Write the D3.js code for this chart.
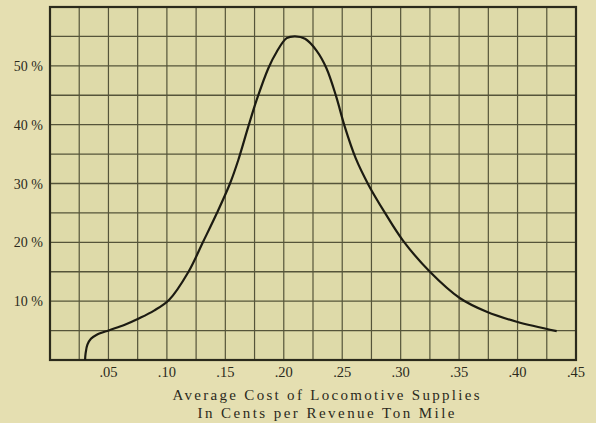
<!doctype html>
<html>
<head>
<style>
  body { margin: 0; background: #e5dfb1; }
  svg { display: block; }
</style>
</head>
<body>
    <div class="container"></div>

    <script src="https://d3js.org/d3.v7.min.js"></script>

    <script>
        // cost per revenue ton mile (cents) vs percentage
        const costs = [0.030, 0.0305, 0.032, 0.035, 0.040, 0.0513, 0.064, 0.0764, 0.089, 0.1018,
                       0.1185, 0.131, 0.1426, 0.154, 0.1611, 0.1697, 0.1768, 0.1868, 0.194, 0.2025,
                       0.2096, 0.2182, 0.228, 0.2365, 0.2448, 0.2521, 0.2615, 0.2724, 0.2866, 0.302,
                       0.325, 0.3508, 0.3736, 0.3993, 0.4335]
        const percents = [0, 1.2, 2.6, 3.6, 4.3, 5.1, 6.0, 7.1, 8.4, 10.2,
                          15.0, 20.1, 24.9, 30.0, 34.0, 39.7, 44.2, 49.6, 52.4, 54.7,
                          55.0, 54.6, 52.6, 49.6, 44.8, 39.7, 34.3, 29.8, 25.0, 20.3,
                          15.0, 10.5, 8.2, 6.5, 4.9]
        const xTicks = [0.05, 0.10, 0.15, 0.20, 0.25, 0.30, 0.35, 0.40, 0.45]
        const xTickLabels = ['.05', '.10', '.15', '.20', '.25', '.30', '.35', '.40', '.45']
        const yTicks = [10, 20, 30, 40, 50]
        const yTickLabels = ['10 %', '20 %', '30 %', '40 %', '50 %']
        const titleLines = ['Average Cost of Locomotive Supplies', 'In Cents per Revenue Ton Mile']

        const W = 596, H = 423
        const pLeft = 50, pRight = 576, pTop = 7, pBottom = 360

        const svg = d3.select('.container').append('svg').attr('width', W).attr('height', H)

        const x = d3.scaleLinear().domain([0, 0.45]).range([pLeft, pRight])
        const y = d3.scaleLinear().domain([0, 60]).range([pBottom, pTop])

        svg.append('rect')
            .attr('x', pLeft).attr('y', pTop)
            .attr('width', pRight - pLeft).attr('height', pBottom - pTop)
            .attr('fill', '#dedaa9')

        // grid
        const gridX = d3.range(1, 18).map(i => i * 0.025)
        const gridY = d3.range(1, 12).map(i => i * 5)

        svg.append('g').selectAll('line').data(gridX).enter().append('line')
            .attr('x1', d => x(d)).attr('x2', d => x(d))
            .attr('y1', pTop).attr('y2', pBottom)
            .attr('stroke', '#55543a').attr('stroke-width', 1.2)

        svg.append('g').selectAll('line').data(gridY).enter().append('line')
            .attr('x1', pLeft).attr('x2', pRight)
            .attr('y1', d => y(d)).attr('y2', d => y(d))
            .attr('stroke', '#55543a').attr('stroke-width', 1.4)

        svg.append('rect')
            .attr('x', pLeft).attr('y', pTop)
            .attr('width', pRight - pLeft).attr('height', pBottom - pTop)
            .attr('fill', 'none').attr('stroke', '#2b2a1c').attr('stroke-width', 2.2)

        // curve
        const pts = costs.map((c, i) => [c, percents[i]])
        const line = d3.line()
            .x(d => x(d[0])).y(d => y(d[1]))
            .curve(d3.curveCatmullRom.alpha(0.5))

        svg.append('path')
            .attr('d', line(pts))
            .attr('fill', 'none')
            .attr('stroke', '#1c1b12')
            .attr('stroke-width', 2.2)

        // tick labels
        svg.append('g').selectAll('text').data(xTicks).enter().append('text')
            .attr('x', d => x(d))
            .attr('y', 377)
            .attr('text-anchor', 'middle')
            .attr('font-family', 'Liberation Serif, serif')
            .attr('font-size', 14.5)
            .attr('fill', '#2b2a1c')
            .text((d, i) => xTickLabels[i])

        svg.append('g').selectAll('text').data(yTicks).enter().append('text')
            .attr('x', 43)
            .attr('y', d => y(d) + 5)
            .attr('text-anchor', 'end')
            .attr('font-family', 'Liberation Serif, serif')
            .attr('font-size', 14)
            .attr('fill', '#2b2a1c')
            .text((d, i) => yTickLabels[i])

        // axis title
        const titleWidths = [307, 257]
        svg.append('g').selectAll('text').data(titleLines).enter().append('text')
            .attr('x', 326)
            .attr('y', (d, i) => 400 + i * 18)
            .attr('text-anchor', 'middle')
            .attr('font-family', 'Liberation Serif, serif')
            .attr('font-size', 15)
            .attr('fill', '#2b2a1c')
            .attr('textLength', (d, i) => titleWidths[i])
            .attr('lengthAdjust', 'spacing')
            .text(d => d)
    </script>
</body>
</html>
